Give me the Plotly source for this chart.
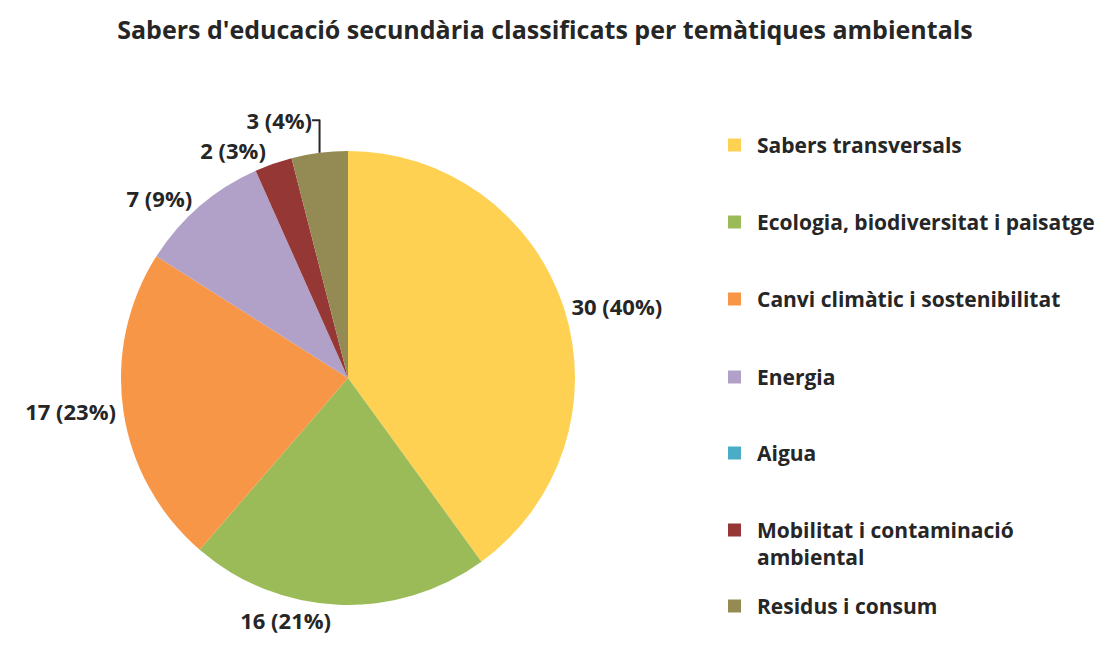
import plotly.graph_objects as go

categories = ["Sabers transversals", "Ecologia, biodiversitat i paisatge",
              "Canvi climàtic i sostenibilitat", "Energia", "Aigua",
              "Mobilitat i contaminació ambiental", "Residus i consum"]
legend_text = ["Sabers transversals", "Ecologia, biodiversitat i paisatge",
               "Canvi climàtic i sostenibilitat", "Energia", "Aigua",
               "Mobilitat i contaminació<br>ambiental", "Residus i consum"]
values = [30, 16, 17, 7, 0, 2, 3]
colors = ["#FED152", "#9BBB59", "#F79646", "#B1A0C7", "#4BACC6", "#953735", "#948A54"]

W, H = 1106, 646
font_family = "Open Sans, Liberation Sans, sans-serif"
text_color = "#262626"

templates = ["%{value} (%{percent:.0%})" if v > 0 else "" for v in values]

cx, cy, r = 340, 370, 227
fig = go.Figure(go.Pie(
    labels=categories,
    values=values,
    sort=False,
    direction="clockwise",
    rotation=0,
    marker=dict(colors=colors, line=dict(width=0)),
    texttemplate=templates,
    textposition="outside",
    textfont=dict(family=font_family, size=22, color=text_color, weight="bold"),
    showlegend=False,
    hoverinfo="label+value+percent",
    domain=dict(x=[(cx - r) / W, (cx + r) / W], y=[1 - (cy + r) / H, 1 - (cy - r) / H]),
))

# manual legend built from the category list
leg_x_px = 720
leg_y_px = [137, 214, 291, 369, 445, 522, 598]
fs = 21
shapes = []
annotations = []
for i, (txt, col) in enumerate(zip(legend_text, colors)):
    y = leg_y_px[i]
    shapes.append(dict(type="rect", xref="paper", yref="paper",
                       x0=leg_x_px / W, x1=(leg_x_px + 13) / W,
                       y0=1 - (y + 6.5) / H, y1=1 - (y - 6.5) / H,
                       fillcolor=col, line=dict(width=0)))
    annotations.append(dict(xref="paper", yref="paper", x=(leg_x_px + 27) / W,
                            y=1 - (y - 16) / H, xanchor="left", yanchor="top",
                            text=txt, showarrow=False, align="left",
                            font=dict(family=font_family, size=fs, color=text_color, weight="bold")))

fig.update_layout(
    width=W, height=H,
    margin=dict(l=0, r=0, t=0, b=0),
    paper_bgcolor="white", plot_bgcolor="white",
    title=dict(text="Sabers d'educació secundària classificats per temàtiques ambientals",
               x=537 / W, xanchor="center", y=1 - 22 / H, yanchor="middle",
               font=dict(family=font_family, size=25, color=text_color, weight="bold")),
    shapes=shapes,
    annotations=annotations,
)

fig.write_html("out.html")
